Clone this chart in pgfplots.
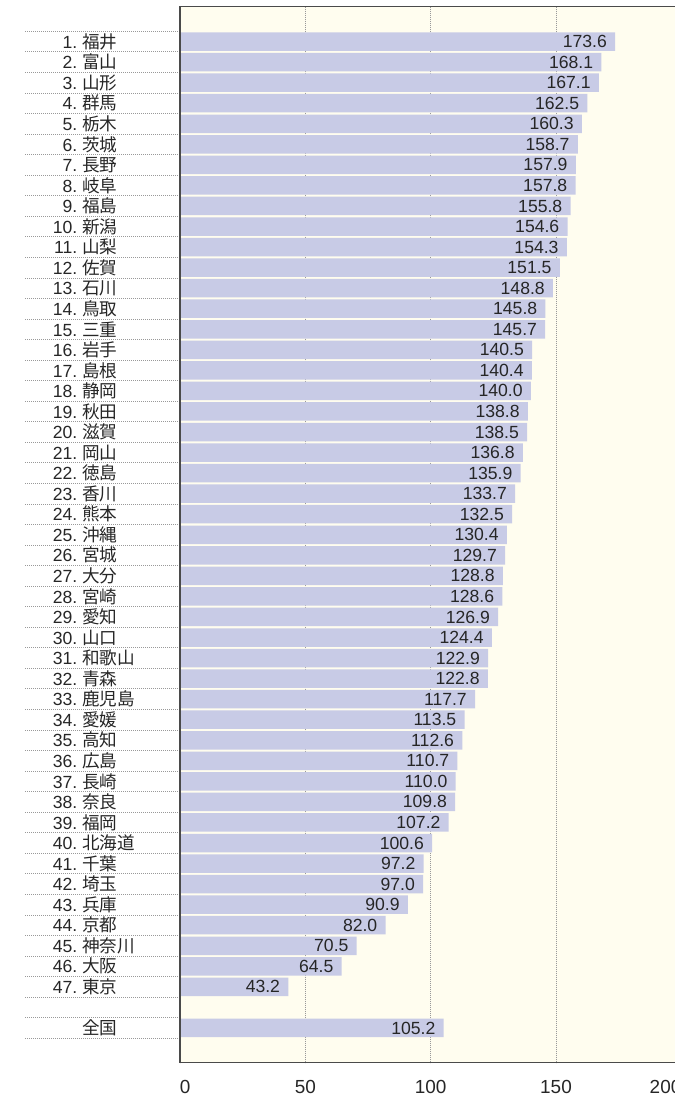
\documentclass[border=0pt]{standalone}
\usepackage{pgfplots}
\pgfplotsset{compat=1.18}
\usepackage{pgfplotstable}
\usepackage{fontspec}
\setmainfont{Liberation Sans}
\newfontfamily\cjk{Noto Sans CJK JP}
\definecolor{barc}{HTML}{C8CBE6}
\definecolor{bgc}{HTML}{FFFDEF}
\definecolor{axc}{HTML}{4A4A4A}
\definecolor{txt}{HTML}{262626}
\newcommand\lab[2]{\makebox[30pt][r]{#1.}\hspace{3.7pt}{\cjk #2}}
\pgfplotstableread{
y v
1 173.6
2 168.1
3 167.1
4 162.5
5 160.3
6 158.7
7 157.9
8 157.8
9 155.8
10 154.6
11 154.3
12 151.5
13 148.8
14 145.8
15 145.7
16 140.5
17 140.4
18 140.0
19 138.8
20 138.5
21 136.8
22 135.9
23 133.7
24 132.5
25 130.4
26 129.7
27 128.8
28 128.6
29 126.9
30 124.4
31 122.9
32 122.8
33 117.7
34 113.5
35 112.6
36 110.7
37 110.0
38 109.8
39 107.2
40 100.6
41 97.2
42 97.0
43 90.9
44 82.0
45 70.5
46 64.5
47 43.2
49 105.2
}\prefdata
\begin{document}
\begin{tikzpicture}
\begin{axis}[
  at={(0,0)}, anchor=south west,
  width=376pt, height=792pt, scale only axis,
  xmin=0, xmax=200, ymin=-0.70, ymax=50.69, y dir=reverse,
  clip=false,
  axis background/.style={fill=bgc},
  axis line style={axc, line width=1.1pt},
  major tick length=0pt,
  xtick={0,50,100,150,200},
  xticklabels={\makebox[0pt][l]{0},50,100,150,\makebox[0pt][r]{200}},
  xmajorgrids,
  major grid style={gray!80, line width=0.6pt, dash pattern=on 0.6pt off 0.9pt},
  ytick={1,...,47,49},
  yticklabels={\lab{1}{福井},\lab{2}{富山},\lab{3}{山形},\lab{4}{群馬},\lab{5}{栃木},\lab{6}{茨城},\lab{7}{長野},\lab{8}{岐阜},\lab{9}{福島},\lab{10}{新潟},\lab{11}{山梨},\lab{12}{佐賀},\lab{13}{石川},\lab{14}{鳥取},\lab{15}{三重},\lab{16}{岩手},\lab{17}{島根},\lab{18}{静岡},\lab{19}{秋田},\lab{20}{滋賀},\lab{21}{岡山},\lab{22}{徳島},\lab{23}{香川},\lab{24}{熊本},\lab{25}{沖縄},\lab{26}{宮城},\lab{27}{大分},\lab{28}{宮崎},\lab{29}{愛知},\lab{30}{山口},\lab{31}{和歌山},\lab{32}{青森},\lab{33}{鹿児島},\lab{34}{愛媛},\lab{35}{高知},\lab{36}{広島},\lab{37}{長崎},\lab{38}{奈良},\lab{39}{福岡},\lab{40}{北海道},\lab{41}{千葉},\lab{42}{埼玉},\lab{43}{兵庫},\lab{44}{京都},\lab{45}{神奈川},\lab{46}{大阪},\lab{47}{東京},{\makebox[30pt]{}\hspace{3.7pt}{\cjk 全国}}},
  yticklabel style={anchor=west, inner sep=0pt, xshift=-107.2pt, font=\fontsize{13.2}{15}\selectfont, text=txt},
  xticklabel style={anchor=north, inner sep=0pt, yshift=-12.9pt, font=\fontsize{14.2}{16}\selectfont, text=txt},
  /pgf/number format/assume math mode=true,
]
\addplot[xbar, bar width=0.9, fill=barc, draw=none, point meta=x,
  nodes near coords,
  nodes near coords style={/pgf/number format/fixed, /pgf/number format/fixed zerofill, /pgf/number format/precision=1, /pgf/number format/assume math mode=true, anchor=east, xshift=-6pt, inner sep=0pt, font=\fontsize{13.2}{15}\selectfont, text=txt}]
  table[x=v, y=y] {\prefdata};
\pgfplotsinvokeforeach{0,...,49}{
  \draw[gray!80, line width=0.6pt, dash pattern=on 0.6pt off 0.9pt] (axis cs:0,#1+0.5) -- ++(-116.25pt,0pt);
}
\draw[axc, line width=1.1pt] (rel axis cs:0,0) -- (rel axis cs:0,1);
\end{axis}
\pgfresetboundingbox
\useasboundingbox (-135pt,-26.5pt) rectangle (370.5pt,797pt);
\end{tikzpicture}
\end{document}
